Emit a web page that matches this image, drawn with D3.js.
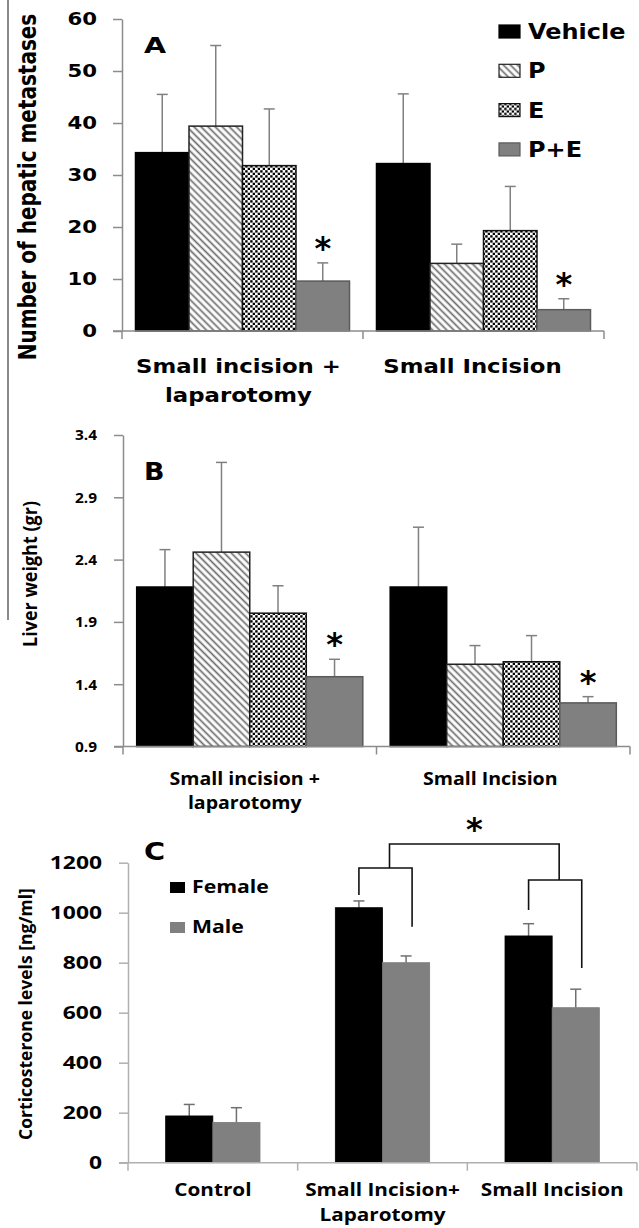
<!DOCTYPE html>
<html>
<head>
<meta charset="utf-8">
<script src="https://cdn.jsdelivr.net/npm/d3@7"></script>
<style>
html, body { margin: 0; background: #fff; }
svg { display: block; }
.axis path, .axis line { stroke: #8c8c8c; stroke-width: 1.5; }
</style>
</head>
<body>
<script>
// ---- data ----
var treatments = ["Vehicle", "P", "E", "P+E"];
var surgeryGroups = ["Small incision + laparotomy", "Small Incision"];

var metastasesMean = [[34.3, 39.4, 31.8, 9.6], [32.2, 13.0, 19.3, 4.1]];
var metastasesErr  = [[11.2, 15.5, 10.9, 3.5], [13.4, 3.7, 8.5, 2.1]];
var metastasesTicks = [0, 10, 20, 30, 40, 50, 60];

var liverMean = [[2.18, 2.46, 1.97, 1.46], [2.18, 1.56, 1.58, 1.25]];
var liverErr  = [[0.30, 0.72, 0.22, 0.14], [0.48, 0.15, 0.21, 0.05]];
var liverTicks = [0.9, 1.4, 1.9, 2.4, 2.9, 3.4];

var significant = [[false, false, false, true], [false, false, false, true]];

var sexes = ["Female", "Male"];
var cortGroups = ["Control", "Small Incision+ Laparotomy", "Small Incision"];
var cortFemale    = [187, 1020, 907];
var cortFemaleErr = [46, 27, 49];
var cortMale      = [161, 800, 620];
var cortMaleErr   = [59, 27, 74];
var cortTicks = [0, 200, 400, 600, 800, 1000, 1200];

var labelsA = [["Small incision +", "laparotomy"], ["Small Incision"]];
var labelsC = [["Control"], ["Small Incision+", "Laparotomy"], ["Small Incision"]];

var fontA = "'DejaVu Sans', Verdana, sans-serif";
var fontB = "'Open Sans', 'Noto Sans', sans-serif";

var svg = d3.select("body").append("svg")
    .attr("width", 639)
    .attr("height", 1228);

var defs = svg.append("defs");

var stripes = defs.append("pattern")
    .attr("id", "stripes")
    .attr("patternUnits", "userSpaceOnUse")
    .attr("width", 5).attr("height", 5)
    .attr("patternTransform", "rotate(-45)");
stripes.append("rect").attr("width", 5).attr("height", 5).attr("fill", "#fff");
stripes.append("line").attr("x1", 2.5).attr("x2", 2.5).attr("y1", 0).attr("y2", 5)
    .attr("stroke", "#6a6a6a").attr("stroke-width", 1.7);

var checker = defs.append("pattern")
    .attr("id", "checker")
    .attr("patternUnits", "userSpaceOnUse")
    .attr("width", 5).attr("height", 5);
checker.append("rect").attr("width", 5).attr("height", 5).attr("fill", "#fff");
checker.append("rect").attr("x", 0.2).attr("y", 0.2).attr("width", 2.4).attr("height", 2.4).attr("fill", "#000");
checker.append("rect").attr("x", 2.7).attr("y", 2.7).attr("width", 2.4).attr("height", 2.4).attr("fill", "#000");

var fill = { "Vehicle": "#000", "P": "url(#stripes)", "E": "url(#checker)", "P+E": "#808080" };
var stroke = { "Vehicle": "#000", "P": "#222", "E": "#111", "P+E": "#5a5a5a" };

// stray crop line on the left of the original figure
svg.append("line")
    .attr("x1", 8).attr("x2", 8).attr("y1", 0).attr("y2", 620)
    .attr("stroke", "#8a8a8a").attr("stroke-width", 2);

function addText(parent, str, x, y, o) {
  return parent.append("text")
      .attr("transform", "translate(" + x + "," + y + ")" + (o.rotate ? " rotate(-90)" : "") +
            " scale(" + (o.sx || 1) + "," + (o.sy || 1) + ")")
      .attr("text-anchor", o.anchor || "start")
      .style("font-family", o.family)
      .style("font-size", o.size + "px")
      .style("font-weight", o.weight || "bold")
      .attr("fill", "#000")
      .text(str);
}

function yAxis(g, y, left, ticks, fmt, offset, sx, family, size, weight) {
  var a = g.append("g")
      .attr("class", "axis")
      .attr("transform", "translate(" + left + ",0)")
      .call(d3.axisLeft(y).tickValues(ticks).tickSize(9).tickSizeOuter(0).tickFormat(fmt));
  a.selectAll(".tick text")
      .attr("x", -offset / sx)
      .attr("transform", "scale(" + sx + ",1)")
      .attr("fill", "#000")
      .style("font-family", family)
      .style("font-size", size + "px")
      .style("font-weight", weight);
  return a;
}

function xAxis(g, x, bottom, color) {
  var bounds = x.domain().map(function(d) { return x(d) - x.step() * x.paddingOuter(); });
  bounds.push(x.range()[1]);
  g.append("line")
      .attr("x1", x.range()[0] - 9).attr("x2", x.range()[1])
      .attr("y1", bottom).attr("y2", bottom)
      .attr("stroke", color).attr("stroke-width", 1.5);
  g.selectAll(".xtick").data(bounds).enter().append("line")
      .attr("x1", function(d) { return d; }).attr("x2", function(d) { return d; })
      .attr("y1", bottom).attr("y2", bottom + 8)
      .attr("stroke", color).attr("stroke-width", 1.5);
}

function treatmentPanel(o) {
  var g = svg.append("g");
  var y = d3.scaleLinear().domain(o.domain).range([o.bottom, o.top]);
  var x0 = d3.scaleBand().domain(surgeryGroups).range([o.left, o.right])
      .paddingInner(o.pad * 2).paddingOuter(o.pad);
  var x1 = d3.scaleBand().domain(treatments).range([0, x0.bandwidth()]);

  var rows = [];
  surgeryGroups.forEach(function(s, i) {
    treatments.forEach(function(t, j) {
      rows.push({ group: s, t: t, v: o.mean[i][j], e: o.err[i][j], sig: significant[i][j] });
    });
  });

  // error bars (drawn first, bars cover the lower part)
  var eb = g.selectAll(".err").data(rows).enter().append("g")
      .attr("transform", function(d) { return "translate(" + (x0(d.group) + x1(d.t) + x1.bandwidth() / 2) + ",0)"; });
  eb.append("line")
      .attr("y1", function(d) { return y(d.v); })
      .attr("y2", function(d) { return y(d.v + d.e); })
      .attr("stroke", "#808080").attr("stroke-width", 1.5);
  eb.append("line")
      .attr("x1", -5.5).attr("x2", 5.5)
      .attr("y1", function(d) { return y(d.v + d.e); })
      .attr("y2", function(d) { return y(d.v + d.e); })
      .attr("stroke", "#808080").attr("stroke-width", 1.5);

  g.selectAll(".bar").data(rows).enter().append("rect")
      .attr("x", function(d) { return x0(d.group) + x1(d.t); })
      .attr("y", function(d) { return y(d.v); })
      .attr("width", x1.bandwidth())
      .attr("height", function(d) { return y(o.domain[0]) - y(d.v); })
      .attr("fill", function(d) { return fill[d.t]; })
      .attr("stroke", function(d) { return stroke[d.t]; })
      .attr("stroke-width", 1.5);

  // significance stars
  rows.filter(function(d) { return d.sig; }).forEach(function(d) {
    addText(g, "*", x0(d.group) + x1(d.t) + x1.bandwidth() / 2, y(d.v + d.e) - 21 + 17,
        { family: fontA, size: 32, anchor: "middle" });
  });

  yAxis(g, y, o.left, o.ticks, o.fmt, o.tickOffset, o.tickSx, o.tickFamily, o.tickSize, "bold");
  xAxis(g, x0, o.bottom, "#8c8c8c");

  labelsA.forEach(function(lines, i) {
    lines.forEach(function(l, k) {
      addText(g, l, x0(surgeryGroups[i]) + x0.bandwidth() / 2 + o.labelDx[i], o.labelY + k * o.labelLine,
          { family: o.labelFamily, size: o.labelSize, sx: o.labelSx, anchor: "middle" });
    });
  });
  return g;
}

// ---- Panel A ----
var gA = treatmentPanel({
  domain: [0, 60], top: 19, bottom: 331, left: 122, right: 604, pad: 0.056,
  mean: metastasesMean, err: metastasesErr, ticks: metastasesTicks, fmt: d3.format("d"),
  tickOffset: 25, tickSx: 1.25, tickFamily: fontA, tickSize: 17,
  labelFamily: fontA, labelSize: 20, labelSx: 1.14,
  labelY: 373, labelLine: 29, labelDx: [-4, -11]
});
addText(gA, "A", 144, 53, { family: fontA, size: 22, sx: 1.3 });
addText(gA, "Number of hepatic metastases", 36, 187,
    { family: fontA, size: 20, rotate: true, sy: 1.28, anchor: "middle" });

var legA = gA.selectAll(".leg").data(treatments).enter().append("g")
    .attr("transform", function(d, i) { return "translate(499," + (39 + i * 39.3) + ")"; });
legA.append("rect")
    .attr("x", 0).attr("y", -14).attr("width", 21).attr("height", 13)
    .attr("fill", function(d) { return fill[d]; })
    .attr("stroke", function(d) { return stroke[d]; }).attr("stroke-width", 1.2);
legA.each(function(d) {
  addText(d3.select(this), d, 29, 0, { family: fontA, size: 22, sx: 1.09 });
});

// ---- Panel B ----
var gB = treatmentPanel({
  domain: [0.9, 3.4], top: 435, bottom: 746.5, left: 123, right: 630, pad: 0.054,
  mean: liverMean, err: liverErr, ticks: liverTicks, fmt: d3.format(".1f"),
  tickOffset: 26, tickSx: 1.03, tickFamily: fontB, tickSize: 15,
  labelFamily: fontB, labelSize: 17, labelSx: 1.15,
  labelY: 785, labelLine: 24, labelDx: [-5, -13]
});
addText(gB, "B", 144, 480, { family: fontA, size: 24, sx: 1.12 });
addText(gB, "Liver weight (gr)", 37, 574,
    { family: fontB, size: 18, rotate: true, sy: 1.12, anchor: "middle" });

// ---- Panel C ----
var gC = svg.append("g");
var yC = d3.scaleLinear().domain([0, 1200]).range([1162.7, 862.7]);
var xC = d3.scaleBand().domain(cortGroups).range([128, 637]).paddingInner(0.444).paddingOuter(0.222);
var xCs = d3.scaleBand().domain(sexes).range([0, xC.bandwidth()]);
var cortFill = { "Female": "#000", "Male": "#808080" };

var cortRows = [];
cortGroups.forEach(function(c, i) {
  cortRows.push({ group: c, s: "Female", v: cortFemale[i], e: cortFemaleErr[i] });
  cortRows.push({ group: c, s: "Male", v: cortMale[i], e: cortMaleErr[i] });
});
function cx(d) { return xC(d.group) + xCs(d.s) + xCs.bandwidth() / 2; }

var ebC = gC.selectAll(".err").data(cortRows).enter().append("g")
    .attr("transform", function(d) { return "translate(" + cx(d) + ",0)"; });
ebC.append("line")
    .attr("y1", function(d) { return yC(d.v); })
    .attr("y2", function(d) { return yC(d.v + d.e); })
    .attr("stroke", "#707070").attr("stroke-width", 1.5);
ebC.append("line")
    .attr("x1", -5.5).attr("x2", 5.5)
    .attr("y1", function(d) { return yC(d.v + d.e); })
    .attr("y2", function(d) { return yC(d.v + d.e); })
    .attr("stroke", "#707070").attr("stroke-width", 1.5);

gC.selectAll(".bar").data(cortRows).enter().append("rect")
    .attr("x", function(d) { return xC(d.group) + xCs(d.s); })
    .attr("y", function(d) { return yC(d.v); })
    .attr("width", xCs.bandwidth())
    .attr("height", function(d) { return yC(0) - yC(d.v); })
    .attr("fill", function(d) { return cortFill[d.s]; })
    .attr("stroke", function(d) { return d.s === "Female" ? "#000" : "#7a7a7a"; })
    .attr("stroke-width", 0.8);

yAxis(gC, yC, 128, cortTicks, d3.format("d"), 26, 1.27, fontB, 18, "bold");
gC.selectAll(".axis path, .axis line").style("stroke", "#b0b0b0");
xAxis(gC, xC, 1162.7, "#b0b0b0");

labelsC.forEach(function(lines, i) {
  lines.forEach(function(l, k) {
    addText(gC, l, xC(cortGroups[i]) + xC.bandwidth() / 2, 1196 + k * 25,
        { family: fontB, size: 17, sx: 1.22, anchor: "middle" });
  });
});

addText(gC, "C", 144, 860, { family: fontA, size: 24, sx: 1.2 });
addText(gC, "Corticosterone levels [ng/ml]", 32, 1014,
    { family: fontB, size: 17.5, rotate: true, anchor: "middle" });

var legC = gC.selectAll(".leg").data(sexes).enter().append("g")
    .attr("transform", function(d, i) { return "translate(170," + (893 + i * 40) + ")"; });
legC.append("rect")
    .attr("x", 0).attr("y", -11).attr("width", 15).attr("height", 11)
    .attr("fill", function(d) { return cortFill[d]; });
legC.each(function(d) {
  addText(d3.select(this), d, 22, 0, { family: fontB, size: 18, sx: 1.18 });
});

// significance brackets, levels in ng/ml
var brackets = [
  { group: "Small Incision+ Laparotomy", top: 1179, left: 1071, right: 944 },
  { group: "Small Incision", top: 1131, left: 1011, right: 779 }
];
var bracketTop = 1275;
var mids = [];
brackets.forEach(function(b) {
  var xl = xC(b.group) + xCs.bandwidth() / 2;
  var xr = xC(b.group) + xCs.bandwidth() * 1.5 + 6;
  mids.push((xl + xr) / 2 + 4);
  gC.append("path")
      .attr("d", "M" + xl + "," + yC(b.left) + "V" + yC(b.top) + "H" + xr + "V" + yC(b.right))
      .attr("fill", "none").attr("stroke", "#111").attr("stroke-width", 1.6);
});
gC.append("path")
    .attr("d", "M" + mids[0] + "," + yC(brackets[0].top) + "V" + yC(bracketTop) +
               "H" + mids[1] + "V" + yC(brackets[1].top))
    .attr("fill", "none").attr("stroke", "#111").attr("stroke-width", 1.6);
addText(gC, "*", (mids[0] + mids[1]) / 2, yC(bracketTop) - 21 + 17,
    { family: fontA, size: 32, anchor: "middle" });
</script>
</body>
</html>
